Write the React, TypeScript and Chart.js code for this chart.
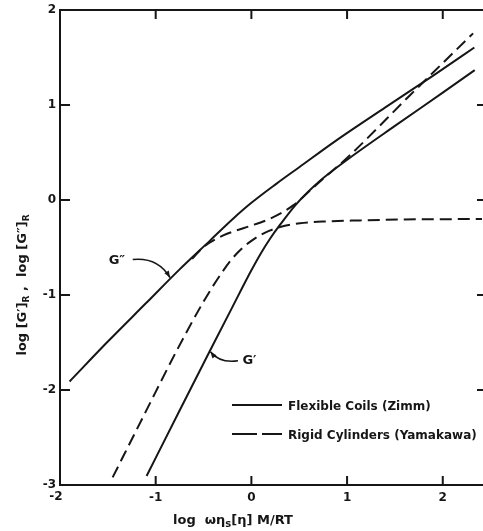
import { useEffect, useRef } from "react";
import { Chart, registerables } from "chart.js";

Chart.register(...registerables);

// ---- data ----
const zimmGppX = [-1.9, -1.5, -1.1, -0.75, -0.43, -0.2, 0.0, 0.26, 0.5, 0.87, 1.4, 1.9, 2.33];
const zimmGppY = [-1.91, -1.49, -1.085, -0.73, -0.425, -0.205, -0.03, 0.17, 0.345, 0.615, 0.975, 1.31, 1.605];

const zimmGpX = [-1.095, -0.75, -0.433, -0.2, 0.0, 0.1, 0.2, 0.3, 0.472, 0.715, 0.994, 1.5, 2.0, 2.334];
const zimmGpY = [-2.905, -2.215, -1.587, -1.13, -0.74, -0.56, -0.4, -0.26, -0.04, 0.2, 0.418, 0.78, 1.13, 1.367];

const rigidGpX = [-1.45, -1.1, -0.781, -0.5, -0.294, -0.15, 0.0, 0.15, 0.3, 0.507, 0.8, 1.133, 1.6, 2.41];
const rigidGpY = [-2.92, -2.22, -1.587, -1.07, -0.743, -0.56, -0.43, -0.34, -0.285, -0.245, -0.225, -0.215, -0.205, -0.2];

const rigidGppX = [-0.62, -0.503, -0.294, -0.05, 0.193, 0.437, 0.7, 1.01, 1.655, 2.317];
const rigidGppY = [-0.62, -0.497, -0.373, -0.286, -0.198, -0.057, 0.18, 0.453, 1.1, 1.754];

const xTicks = [-2, -1, 0, 1, 2];
const xTickLabels = ["-2", "-1", "0", "1", "2"];
const yTicks = [2, 1, 0, -1, -2, -3];
const yTickLabels = ["2", "1", "0", "-1", "-2", "-3"];
const legendLabels = ["Flexible Coils (Zimm)", "Rigid Cylinders (Yamakawa)"];
const curveLabels = ["G\u2033", "G\u2032"];

const X_MIN = -2;
const X_MAX = 2.41;
const Y_MIN = -3;
const Y_MAX = 2;

const INK = "#161616";
const FONT = '"DejaVu Sans", "Liberation Sans", sans-serif';

const pts = (xs: number[], ys: number[]) => xs.map((x, i) => ({ x, y: ys[i] }));

function arrowHead(ctx: CanvasRenderingContext2D, fx: number, fy: number, tx: number, ty: number) {
  const ang = Math.atan2(ty - fy, tx - fx);
  const L = 7;
  const W = 0.38;
  ctx.beginPath();
  ctx.moveTo(tx, ty);
  ctx.lineTo(tx - L * Math.cos(ang - W), ty - L * Math.sin(ang - W));
  ctx.lineTo(tx - L * Math.cos(ang + W), ty - L * Math.sin(ang + W));
  ctx.closePath();
  ctx.fill();
}

const framePlugin = {
  id: "frame",
  afterDatasetsDraw(chart: any) {
    const { ctx, chartArea: a } = chart;
    const xs = chart.scales.x;
    const ys = chart.scales.y;
    const W = chart.width;
    ctx.save();
    ctx.strokeStyle = INK;
    ctx.fillStyle = INK;
    ctx.lineWidth = 2;
    ctx.lineCap = "butt";

    // frame
    ctx.beginPath();
    ctx.moveTo(a.left, a.bottom + 1);
    ctx.lineTo(a.left, a.top - 1);
    ctx.moveTo(a.left - 1, a.top);
    ctx.lineTo(W, a.top);
    ctx.moveTo(a.left - 1, a.bottom);
    ctx.lineTo(W, a.bottom);
    // ticks
    xTicks.forEach((v) => {
      if (v === X_MIN) return;
      const px = xs.getPixelForValue(v);
      ctx.moveTo(px, a.bottom);
      ctx.lineTo(px, a.bottom - 9);
      ctx.moveTo(px, a.top);
      ctx.lineTo(px, a.top + 9);
    });
    yTicks.forEach((v) => {
      if (v === Y_MAX || v === Y_MIN) return;
      const py = ys.getPixelForValue(v);
      ctx.moveTo(a.left, py);
      ctx.lineTo(a.left + 10, py);
      ctx.moveTo(W, py);
      ctx.lineTo(W - 6, py);
    });
    ctx.stroke();

    // tick labels
    ctx.font = `bold 12px ${FONT}`;
    ctx.textBaseline = "middle";
    ctx.textAlign = "right";
    yTicks.forEach((v, i) => {
      const py = ys.getPixelForValue(v);
      ctx.fillText(yTickLabels[i], a.left - 4, py);
    });
    ctx.textAlign = "center";
    xTicks.forEach((v, i) => {
      const px = xs.getPixelForValue(v);
      const off = v === X_MIN ? -4 : 0;
      ctx.fillText(xTickLabels[i], px + off, a.bottom + (v === X_MIN ? 12 : 13));
    });

    // x title
    {
      const main = `bold 13px ${FONT}`;
      const sub = `bold 10px ${FONT}`;
      const parts: [string, boolean][] = [["log  \u03c9\u03b7", false], ["s", true], ["[\u03b7] M/RT", false]];
      let total = 0;
      parts.forEach(([t, s]) => {
        ctx.font = s ? sub : main;
        total += ctx.measureText(t).width;
      });
      let cx = 233 - total / 2;
      ctx.textAlign = "left";
      ctx.textBaseline = "alphabetic";
      parts.forEach(([t, s]) => {
        ctx.font = s ? sub : main;
        ctx.fillText(t, cx, s ? 527 : 524);
        cx += ctx.measureText(t).width;
      });
    }

    // y title (rotated)
    {
      const main = `bold 13px ${FONT}`;
      const sub = `bold 9px ${FONT}`;
      const parts: [string, boolean][] = [
        ["log [G\u2032]", false],
        ["R", true],
        [" ,  log [G\u2033]", false],
        ["R", true],
      ];
      ctx.save();
      ctx.translate(26, 285);
      ctx.rotate(-Math.PI / 2);
      let total = 0;
      parts.forEach(([t, s]) => {
        ctx.font = s ? sub : main;
        total += ctx.measureText(t).width;
      });
      let cx = -total / 2;
      ctx.textAlign = "left";
      ctx.textBaseline = "alphabetic";
      parts.forEach(([t, s]) => {
        ctx.font = s ? sub : main;
        ctx.fillText(t, cx, s ? 3 : 0);
        cx += ctx.measureText(t).width;
      });
      ctx.restore();
    }

    // curve labels with arrows (data coordinates)
    const P = (x: number, y: number) => [xs.getPixelForValue(x), ys.getPixelForValue(y)];
    ctx.font = `bold 13px ${FONT}`;
    ctx.textAlign = "center";
    ctx.textBaseline = "middle";
    {
      const [tx, ty] = P(-1.405, -0.637);
      ctx.fillText(curveLabels[0], tx, ty);
      const [sx, sy] = P(-1.24, -0.627);
      const [cx1, cy1] = P(-0.98, -0.6);
      const [ex, ey] = P(-0.851, -0.816);
      ctx.lineWidth = 1.6;
      ctx.beginPath();
      ctx.moveTo(sx, sy);
      ctx.quadraticCurveTo(cx1, cy1, ex, ey);
      ctx.stroke();
      arrowHead(ctx, cx1, cy1, ex, ey);
    }
    {
      const [tx, ty] = P(-0.02, -1.692);
      ctx.fillText(curveLabels[1], tx, ty);
      const [sx, sy] = P(-0.14, -1.692);
      const [cx1, cy1] = P(-0.33, -1.72);
      const [ex, ey] = P(-0.428, -1.597);
      ctx.beginPath();
      ctx.moveTo(sx, sy);
      ctx.quadraticCurveTo(cx1, cy1, ex, ey);
      ctx.stroke();
      arrowHead(ctx, cx1, cy1, ex, ey);
    }

    // legend
    ctx.lineWidth = 2;
    ctx.beginPath();
    ctx.moveTo(232, 405);
    ctx.lineTo(282, 405);
    ctx.stroke();
    ctx.setLineDash([25, 5]);
    ctx.beginPath();
    ctx.moveTo(232, 434);
    ctx.lineTo(282, 434);
    ctx.stroke();
    ctx.setLineDash([]);
    ctx.font = `bold 12px ${FONT}`;
    ctx.textAlign = "left";
    ctx.textBaseline = "middle";
    ctx.fillText(legendLabels[0], 288, 407);
    ctx.fillText(legendLabels[1], 288, 436);

    ctx.restore();
  },
};

export default function App() {
  const ref = useRef<HTMLCanvasElement | null>(null);
  useEffect(() => {
    if (!ref.current) return;
    const common = {
      showLine: true,
      pointRadius: 0,
      borderColor: INK,
      borderWidth: 2,
      cubicInterpolationMode: "monotone" as const,
      fill: false,
    };
    const chart = new Chart(ref.current, {
      type: "scatter",
      data: {
        datasets: [
          { ...common, label: "Zimm G''", data: pts(zimmGppX, zimmGppY) },
          { ...common, label: "Zimm G'", data: pts(zimmGpX, zimmGpY) },
          { ...common, label: "Rigid G'", data: pts(rigidGpX, rigidGpY), borderDash: [12, 6] },
          { ...common, label: "Rigid G''", data: pts(rigidGppX, rigidGppY), borderDash: [12, 6] },
        ],
      },
      options: {
        responsive: false,
        animation: false,
        devicePixelRatio: 1,
        layout: { padding: { left: 60, right: 1, top: 10, bottom: 46 } },
        plugins: { legend: { display: false }, tooltip: { enabled: false } },
        scales: {
          x: { type: "linear", min: X_MIN, max: X_MAX, display: false },
          y: { type: "linear", min: Y_MIN, max: Y_MAX, display: false },
        },
      },
      plugins: [framePlugin],
    });
    return () => chart.destroy();
  }, []);
  return (
    <div style={{ position: "fixed", left: 0, top: 0, width: 483, height: 531, background: "#fff" }}>
      <canvas ref={ref} width={483} height={531} style={{ width: 483, height: 531, display: "block" }} />
    </div>
  );
}
